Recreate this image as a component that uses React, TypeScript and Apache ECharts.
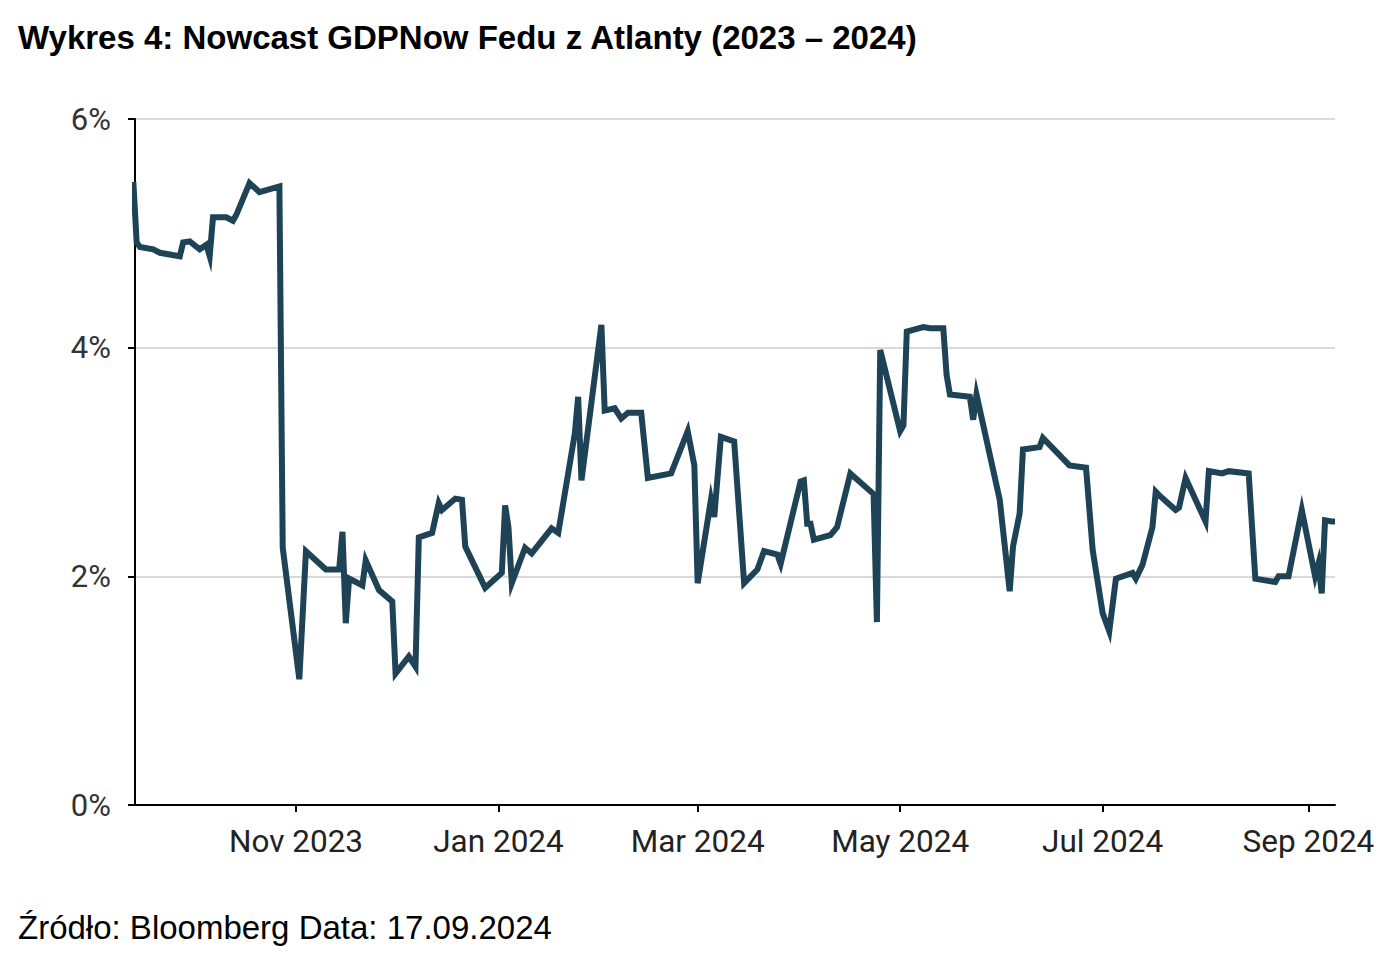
import { useEffect, useRef } from 'react'
import * as echarts from 'echarts'

const dates = [
  '2023-09-13', '2023-09-14', '2023-09-15', '2023-09-19', '2023-09-21', '2023-09-27', '2023-09-28', '2023-09-30',
  '2023-10-03', '2023-10-05', '2023-10-06', '2023-10-07', '2023-10-11', '2023-10-13', '2023-10-14', '2023-10-18',
  '2023-10-21', '2023-10-27', '2023-10-28', '2023-11-02', '2023-11-04', '2023-11-10', '2023-11-14', '2023-11-15',
  '2023-11-16', '2023-11-17', '2023-11-21', '2023-11-22', '2023-11-26', '2023-11-30', '2023-12-01', '2023-12-05',
  '2023-12-07', '2023-12-08', '2023-12-12', '2023-12-14', '2023-12-15', '2023-12-19', '2023-12-21', '2023-12-22',
  '2023-12-28', '2024-01-02', '2024-01-03', '2024-01-04', '2024-01-05', '2024-01-09', '2024-01-11', '2024-01-17',
  '2024-01-19', '2024-01-24', '2024-01-25', '2024-01-26', '2024-02-01', '2024-02-02', '2024-02-05', '2024-02-07',
  '2024-02-09', '2024-02-13', '2024-02-15', '2024-02-22', '2024-02-27', '2024-02-29', '2024-03-01', '2024-03-05',
  '2024-03-06', '2024-03-08', '2024-03-12', '2024-03-15', '2024-03-19', '2024-03-21', '2024-03-25', '2024-03-26',
  '2024-04-01', '2024-04-02', '2024-04-03', '2024-04-04', '2024-04-05', '2024-04-10', '2024-04-12', '2024-04-16',
  '2024-04-23', '2024-04-24', '2024-04-25', '2024-05-01', '2024-05-02', '2024-05-03', '2024-05-08', '2024-05-10',
  '2024-05-14', '2024-05-15', '2024-05-16', '2024-05-22', '2024-05-23', '2024-05-24', '2024-05-31', '2024-06-03',
  '2024-06-04', '2024-06-06', '2024-06-07', '2024-06-12', '2024-06-13', '2024-06-17', '2024-06-21', '2024-06-26',
  '2024-06-28', '2024-07-01', '2024-07-03', '2024-07-05', '2024-07-10', '2024-07-11', '2024-07-13', '2024-07-16',
  '2024-07-17', '2024-07-18', '2024-07-23', '2024-07-24', '2024-07-26', '2024-08-01', '2024-08-02', '2024-08-06',
  '2024-08-08', '2024-08-14', '2024-08-16', '2024-08-22', '2024-08-23', '2024-08-26', '2024-08-30', '2024-09-03',
  '2024-09-04', '2024-09-05', '2024-09-06', '2024-09-08', '2024-09-09',
]

// GDPNow, % (annualised)
const nowcast = [
  5.45, 4.92, 4.88, 4.86, 4.83, 4.8, 4.92, 4.93,
  4.86, 4.9, 4.8, 5.14, 5.14, 5.11, 5.16, 5.44,
  5.36, 5.41, 2.25, 1.1, 2.22, 2.06, 2.06, 2.39,
  1.59, 1.98, 1.92, 2.14, 1.88, 1.78, 1.15, 1.3,
  1.21, 2.34, 2.38, 2.64, 2.58, 2.68, 2.67, 2.26,
  1.9, 2.03, 2.62, 2.43, 1.94, 2.25, 2.2, 2.42,
  2.38, 3.25, 3.57, 2.84, 4.2, 3.45, 3.47, 3.38,
  3.43, 3.43, 2.86, 2.9, 3.27, 2.97, 1.94, 2.67,
  2.52, 3.22, 3.18, 1.94, 2.06, 2.22, 2.19, 2.11,
  2.83, 2.84, 2.46, 2.46, 2.32, 2.36, 2.43, 2.9,
  2.72, 1.6, 3.98, 3.27, 3.32, 4.14, 4.18, 4.17,
  4.17, 3.76, 3.59, 3.57, 3.37, 3.59, 2.67, 1.87,
  2.26, 2.55, 3.11, 3.13, 3.21, 3.09, 2.97, 2.95,
  2.23, 1.68, 1.52, 1.98, 2.03, 1.98, 2.1, 2.43,
  2.74, 2.71, 2.58, 2.6, 2.86, 2.48, 2.92, 2.9,
  2.92, 2.9, 1.98, 1.95, 2.0, 2.0, 2.58, 2.0,
  2.11, 1.85, 2.49, 2.48, 2.48,
]

const xTickDates = ['2023-11-01', '2024-01-01', '2024-03-01', '2024-05-01', '2024-07-01', '2024-09-01']
const xStart = '2023-09-13 12:00'
const xEnd = '2024-09-09'
const monthNames = ['Jan', 'Feb', 'Mar', 'Apr', 'May', 'Jun', 'Jul', 'Aug', 'Sep', 'Oct', 'Nov', 'Dec']

const chartTitle = 'Wykres 4: Nowcast GDPNow Fedu z Atlanty (2023 – 2024)'
const sourceNote = 'Źródło: Bloomberg Data: 17.09.2024'

function toTime(s: string) {
  const [day, clock] = s.split(' ')
  const [y, m, d] = day.split('-').map(Number)
  const [hh, mm] = (clock || '0:0').split(':').map(Number)
  return new Date(y, m - 1, d, hh, mm).getTime()
}

export default function App() {
  const chartRef = useRef<HTMLDivElement | null>(null)

  useEffect(() => {
    if (!chartRef.current) {
      return
    }

    const ticks = xTickDates.map(toTime)
    const chart = echarts.init(chartRef.current, null, { renderer: 'svg' })
    chart.setOption({
      animation: false,
      title: [
        {
          text: chartTitle,
          left: 18,
          top: 21,
          padding: 0,
          textStyle: { fontFamily: 'Liberation Sans', fontWeight: 'bold', fontSize: 33, color: '#000' },
        },
        {
          text: sourceNote,
          left: 18,
          top: 911,
          padding: 0,
          textStyle: { fontFamily: 'Liberation Sans', fontWeight: 'normal', fontSize: 33, color: '#000' },
        },
      ],
      grid: { left: 135, right: 57, top: 119, bottom: 159 },
      xAxis: {
        type: 'value',
        min: toTime(xStart),
        max: toTime(xEnd),
        axisLine: { lineStyle: { color: '#000', width: 2 } },
        axisTick: {
          length: 7,
          lineStyle: { color: '#000', width: 2 },
          customValues: ticks,
        },
        axisLabel: {
          customValues: ticks,
          margin: 20,
          fontFamily: 'Roboto',
          fontSize: 31.5,
          color: '#222',
          formatter: (v: number) => {
            const d = new Date(v)
            return monthNames[d.getMonth()] + ' ' + d.getFullYear()
          },
        },
        splitLine: { show: false },
      },
      yAxis: {
        type: 'value',
        min: 0,
        max: 6,
        interval: 2,
        axisLine: { show: true, lineStyle: { color: '#000', width: 2 } },
        axisTick: { show: true, length: 7, lineStyle: { color: '#000', width: 2 } },
        axisLabel: {
          margin: 24,
          fontFamily: 'Roboto',
          fontSize: 31,
          color: '#333',
          formatter: '{value}%',
        },
        splitLine: { lineStyle: { color: '#cccccc', width: 1.5 } },
      },
      series: [
        {
          type: 'line',
          data: dates.map((d, i) => [toTime(d), nowcast[i]]),
          showSymbol: false,
          symbol: 'none',
          lineStyle: { color: '#1e4356', width: 6, join: 'miter', miterLimit: 6 },
        },
      ],
    })

    return () => {
      chart.dispose()
    }
  }, [])

  return <div ref={chartRef} style={{ position: 'absolute', left: 0, top: 0, width: 1392, height: 964 }} />
}
